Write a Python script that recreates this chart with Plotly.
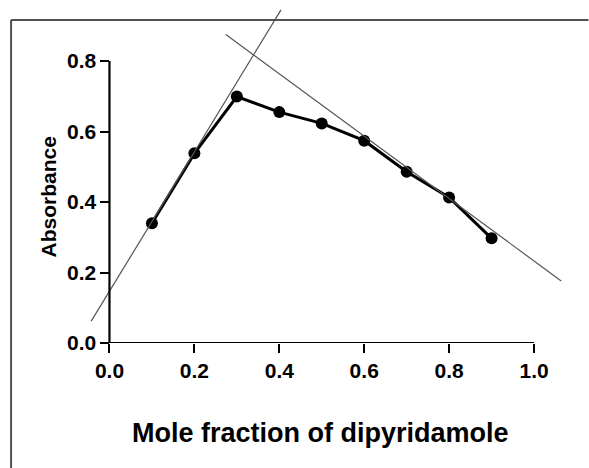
import plotly.graph_objects as go

# Data
mole_fraction = [0.1, 0.2, 0.3, 0.4, 0.5, 0.6, 0.7, 0.8, 0.9]
absorbance = [0.340, 0.538, 0.699, 0.655, 0.623, 0.574, 0.486, 0.413, 0.297]

# Tangent (Job's plot) lines: end points
tangent1_x = [-0.043, 0.404]
tangent1_y = [0.062, 0.945]
tangent2_x = [0.274, 1.064]
tangent2_y = [0.875, 0.176]

x_ticks = [0.0, 0.2, 0.4, 0.6, 0.8, 1.0]
x_ticklabels = ["0.0", "0.2", "0.4", "0.6", "0.8", "1.0"]
y_ticks = [0.0, 0.2, 0.4, 0.6, 0.8]
y_ticklabels = ["0.0", "0.2", "0.4", "0.6", "0.8"]

x_title = "Mole fraction of dipyridamole"
y_title = "Absorbance"

FONT = "Liberation Sans, Arial, sans-serif"

fig = go.Figure()
fig.add_trace(go.Scatter(
    x=mole_fraction, y=absorbance, mode="lines+markers",
    line=dict(color="black", width=3),
    marker=dict(color="black", size=12),
    showlegend=False, cliponaxis=False,
))
fig.add_trace(go.Scatter(
    x=tangent1_x, y=tangent1_y, mode="lines",
    line=dict(color="#555555", width=1.2), showlegend=False,
))
fig.add_trace(go.Scatter(
    x=tangent2_x, y=tangent2_y, mode="lines",
    line=dict(color="#555555", width=1.2), showlegend=False,
))

W, H = 589, 468
L, R, T, B = 84, 20.5, 5, 125
pw, ph = W - L - R, H - T - B
xr = [-0.06, 1.08]
yr = [0.0, 0.9589]
ypos = (0 - xr[0]) / (xr[1] - xr[0])

def px2paper_x(px):
    return (px - L) / pw

def py2paper_y(py):
    return (H - B - py) / ph

fig.update_layout(
    width=W, height=H,
    margin=dict(l=L, r=R, t=T, b=B, pad=0),
    paper_bgcolor="white", plot_bgcolor="white",
    xaxis=dict(
        range=xr, showgrid=False, zeroline=False, showline=False,
        tickvals=x_ticks, ticktext=x_ticklabels,
        ticks="outside", ticklen=9, tickwidth=2, tickcolor="black",
        tickfont=dict(family=FONT, size=21, color="black", weight="bold"),
    ),
    yaxis=dict(
        range=yr, showgrid=False, zeroline=False, showline=False,
        anchor="free", position=ypos,
        tickvals=y_ticks, ticktext=y_ticklabels,
        ticks="outside", ticklen=9, tickwidth=2, tickcolor="black",
        tickfont=dict(family=FONT, size=21, color="black", weight="bold"),
    ),
    shapes=[
        # axis lines limited to the tick range
        dict(type="line", xref="x", yref="y", x0=x_ticks[0], x1=x_ticks[-1], y0=0, y1=0,
             line=dict(color="black", width=2.2), layer="above"),
        dict(type="line", xref="x", yref="y", x0=0, x1=0, y0=y_ticks[0], y1=y_ticks[-1],
             line=dict(color="black", width=2.2), layer="above"),
        # outer frame (top and left)
        dict(type="line", xref="paper", yref="paper",
             x0=px2paper_x(11), x1=px2paper_x(W), y0=py2paper_y(20), y1=py2paper_y(20),
             line=dict(color="#505050", width=2)),
        dict(type="line", xref="paper", yref="paper",
             x0=px2paper_x(11), x1=px2paper_x(11), y0=py2paper_y(20), y1=py2paper_y(H),
             line=dict(color="#505050", width=2)),
    ],
    annotations=[
        dict(text=x_title, xref="paper", yref="paper",
             x=px2paper_x(321), y=py2paper_y(433), showarrow=False,
             xanchor="center", yanchor="middle",
             font=dict(family=FONT, size=27, color="black", weight="bold")),
        dict(text=y_title, xref="paper", yref="paper",
             x=px2paper_x(48), y=py2paper_y(197.5), showarrow=False,
             xanchor="center", yanchor="middle", textangle=-90,
             font=dict(family=FONT, size=21, color="black", weight="bold")),
    ],
)

fig.write_html(
    "out.html",
    config={"displayModeBar": False},
    post_script="document.body.style.margin='0';document.body.style.overflow='hidden';",
)
